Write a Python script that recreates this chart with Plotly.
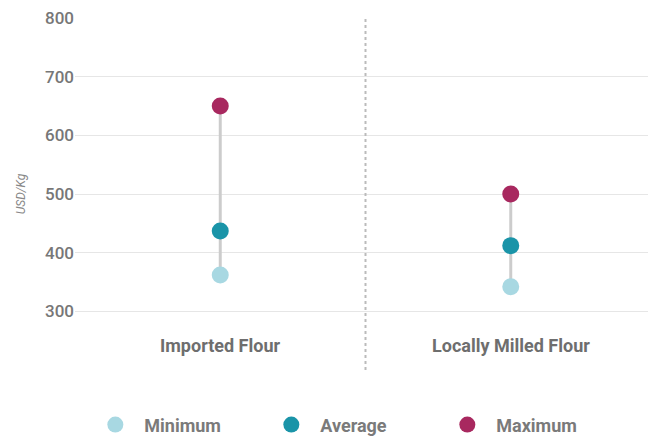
import plotly.graph_objects as go

categories = ["Imported Flour", "Locally Milled Flour"]
minimum = [362, 342]
average = [437, 412]
maximum = [650, 500]

colors = {"Minimum": "#a8d8e2", "Average": "#1a94a8", "Maximum": "#a8285f"}
xpos = [0, 1]

fig = go.Figure()

# connectors min -> max
for x, lo, hi in zip(xpos, minimum, maximum):
    fig.add_trace(go.Scatter(
        x=[x, x], y=[lo, hi], mode="lines",
        line=dict(color="#cccccc", width=3), showlegend=False, hoverinfo="skip",
    ))

for name, vals in [("Minimum", minimum), ("Average", average), ("Maximum", maximum)]:
    fig.add_trace(go.Scatter(
        x=xpos, y=vals, mode="markers", name="  " + name,
        marker=dict(color=colors[name], size=17, line=dict(width=0)),
    ))

# dotted separator between categories
fig.add_shape(type="line", x0=0.5, x1=0.5, y0=0, y1=1, xref="x", yref="paper",
              line=dict(color="#bbbbbb", width=2, dash="dot"))

for x, c in zip(xpos, categories):
    fig.add_annotation(x=x, y=242, text=f"<b>{c}</b>", showarrow=False,
                       font=dict(size=18, color="#6e6e6e"))

fig.update_xaxes(range=[-0.5, 1.5], showgrid=False, showticklabels=False,
                 zeroline=False, showline=False)
fig.update_yaxes(range=[200, 800], tickvals=[300, 400, 500, 600, 700, 800],
                 showgrid=True, gridcolor="#e6e6e6", gridwidth=1, zeroline=False,
                 automargin=False, ticklabeloverflow="allow",
                 tickfont=dict(size=17, color="#777777", weight=500),
                 title=dict(text="<i>USD/Kg</i>", font=dict(size=12, color="#888888"),
                            standoff=16))
fig.update_layout(
    width=656, height=438,
    margin=dict(l=67, r=8, t=10, b=76, autoexpand=False),
    plot_bgcolor="white", paper_bgcolor="white",
    font=dict(family="Roboto, sans-serif"),
    legend=dict(orientation="h", x=0.035, y=-0.156, yanchor="middle",
                entrywidth=131, font=dict(size=18, color="#7a7a7a", weight="bold")),
)

fig.write_html("out.html")
